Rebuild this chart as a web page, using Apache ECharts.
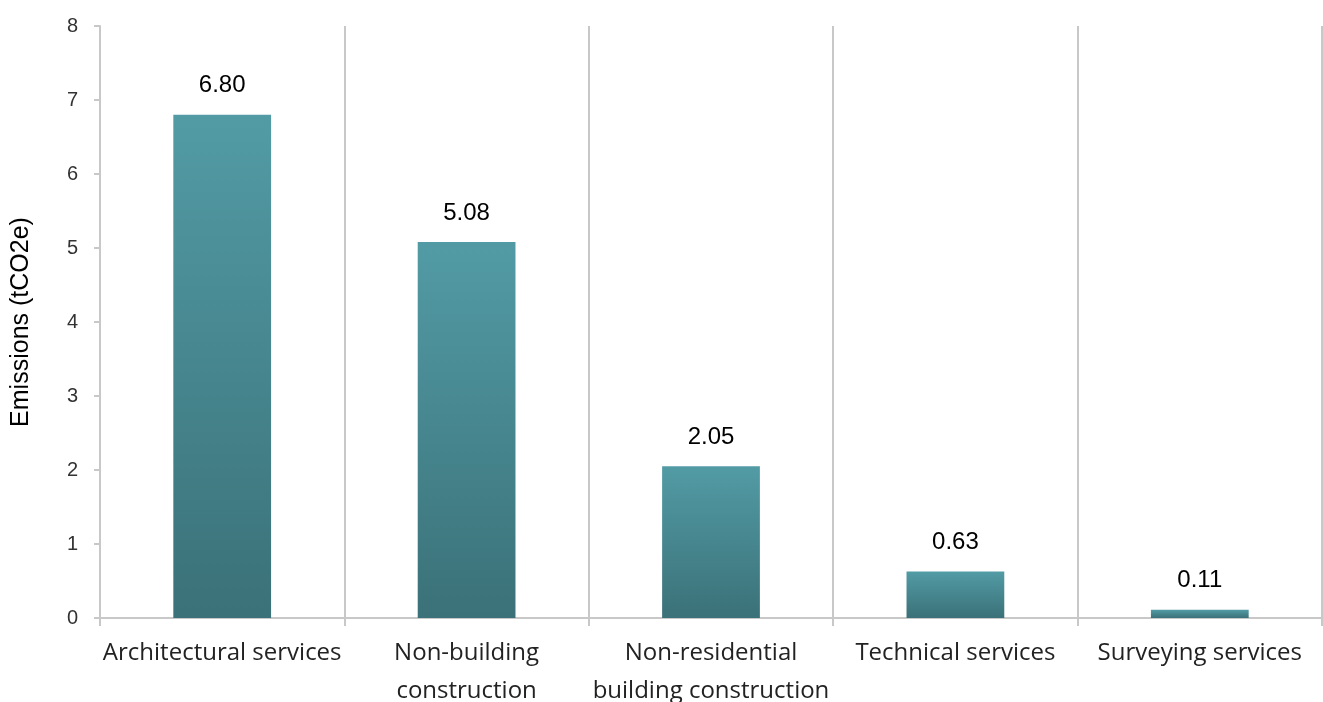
<!DOCTYPE html>
<html>
<head>
<meta charset="utf-8">
<script src="https://cdn.jsdelivr.net/npm/echarts@6/dist/echarts.min.js"></script>
<style>
  html, body { margin: 0; padding: 0; background: #fff; }
  #chart { width: 1323px; height: 702px; }
</style>
</head>
<body>
<div id="chart"></div>
<script>
// Emissions by service category
const categories = [
  'Architectural services',
  'Non-building\nconstruction',
  'Non-residential\nbuilding construction',
  'Technical services',
  'Surveying services'
];
const emissions = [6.80, 5.08, 2.05, 0.63, 0.11];
const yTicks = { min: 0, max: 8, interval: 1 };

const gridColor = '#c8c8c8';

const chart = echarts.init(document.getElementById('chart'));
chart.setOption({
  animation: false,
  grid: { left: 100, right: 1, top: 26, bottom: 84, containLabel: false, outerBoundsMode: 'none' },
  xAxis: {
    type: 'category',
    data: categories,
    boundaryGap: true,
    axisLine: { show: true, lineStyle: { color: gridColor, width: 2 } },
    axisTick: { show: true, length: 8, lineStyle: { color: gridColor, width: 2 } },
    splitLine: { show: true, lineStyle: { color: gridColor, width: 2 } },
    axisLabel: {
      fontFamily: 'Open Sans',
      fontSize: 24,
      color: '#222',
      lineHeight: 38,
      margin: 16,
      interval: 0
    }
  },
  yAxis: {
    type: 'value',
    min: yTicks.min,
    max: yTicks.max,
    interval: yTicks.interval,
    name: 'Emissions (tCO2e)',
    nameLocation: 'middle',
    nameGap: 66,
    nameTextStyle: { fontFamily: 'Liberation Sans', fontSize: 25, color: '#000' },
    axisLine: { show: true, lineStyle: { color: gridColor, width: 2 } },
    axisTick: { show: true, length: 6, lineStyle: { color: gridColor, width: 2 } },
    splitLine: { show: false },
    axisLabel: { fontFamily: 'Liberation Sans', fontSize: 20, color: '#333', margin: 22 }
  },
  series: [{
    type: 'bar',
    data: emissions,
    barWidth: '40%',
    itemStyle: {
      color: new echarts.graphic.LinearGradient(0, 0, 0, 1, [
        { offset: 0, color: '#529ba5' },
        { offset: 1, color: '#3b7178' }
      ])
    },
    label: {
      show: true,
      position: 'top',
      distance: 17,
      fontFamily: 'Liberation Sans',
      fontSize: 24,
      color: '#000',
      formatter: p => p.value.toFixed(2)
    }
  }]
});
</script>
</body>
</html>
